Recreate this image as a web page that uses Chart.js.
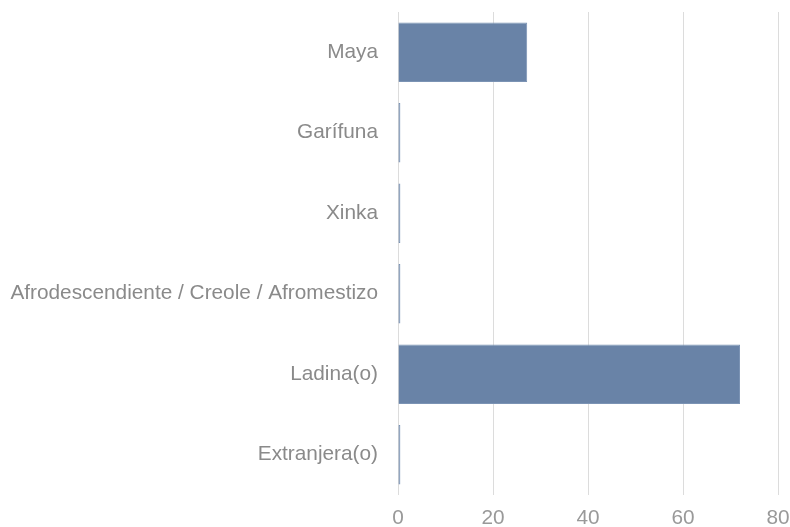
<!DOCTYPE html>
<html>
<head>
<meta charset="utf-8">
<script src="https://cdn.jsdelivr.net/npm/chart.js@4"></script>
<style>
  html, body { margin: 0; padding: 0; background: #fff; }
  #wrap { width: 790px; height: 527px; }
</style>
</head>
<body>
<div id="wrap"><canvas id="myChart"></canvas></div>
<script>
var categories = ["Maya", "Garífuna", "Xinka", "Afrodescendiente / Creole / Afromestizo", "Ladina(o)", "Extranjera(o)"];
var values = [27.2, 0.5, 0.5, 0.5, 72.0, 0.5];
var xTicks = [0, 20, 40, 60, 80];

var labelFont = { family: "'Liberation Sans', Arial, sans-serif", size: 20.8 };

// keep the axes from pushing the plot area around
function noPadding(scale) {
  scale.paddingTop = 0;
  scale.paddingBottom = 0;
  scale.paddingLeft = 0;
  scale.paddingRight = 0;
}

var ctx = document.getElementById("myChart").getContext('2d');
var myChart = new Chart(ctx, {
  type: 'bar',
  data: {
    labels: categories,
    datasets: [{
      data: values,
      backgroundColor: "#6983a7",
      borderColor: "#7b93b4",
      borderWidth: 1,
      barPercentage: 0.74,
      categoryPercentage: 1
    }]
  },
  options: {
    indexAxis: 'y',
    responsive: true,
    maintainAspectRatio: false,
    animation: false,
    layout: { padding: { top: 12, right: 12, bottom: 0, left: 0 } },
    plugins: {
      legend: { display: false },
      tooltip: { enabled: false }
    },
    scales: {
      x: {
        min: 0,
        max: 80,
        afterBuildTicks: function(scale) {
          scale.ticks = xTicks.map(function(v) { return { value: v }; });
        },
        afterFit: function(scale) { scale.height = 32; noPadding(scale); },
        grid: { color: "#dcdcdc", lineWidth: 1, drawTicks: false },
        border: { display: false },
        ticks: {
          color: "#999999",
          padding: 11,
          font: labelFont
        }
      },
      y: {
        afterFit: function(scale) { scale.width = 398; noPadding(scale); },
        grid: { display: false, drawTicks: false },
        border: { display: false },
        ticks: {
          color: "#8a8a8a",
          padding: 20,
          font: labelFont
        }
      }
    }
  }
});
</script>
</body>
</html>
